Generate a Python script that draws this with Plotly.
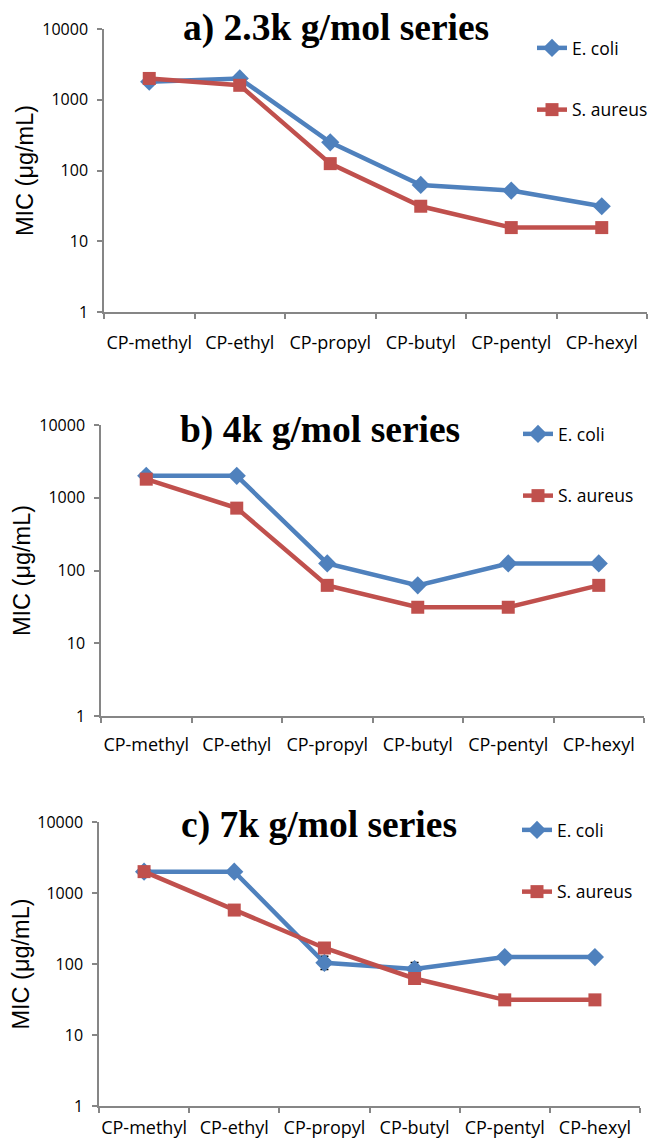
import plotly.graph_objects as go

categories = ["CP-methyl", "CP-ethyl", "CP-propyl", "CP-butyl", "CP-pentyl", "CP-hexyl"]
titles = ["a) 2.3k g/mol series", "b) 4k g/mol series", "c) 7k g/mol series"]

ecoli_a = [1800, 2000, 250, 62.5, 52, 31.25]
saureus_a = [2000, 1600, 125, 31.25, 15.6, 15.6]

ecoli_b = [2000, 2000, 125, 62.5, 125, 125]
saureus_b = [1800, 720, 62.5, 31.25, 31.25, 62.5]

ecoli_c = [2000, 2000, 104, 85, 125, 125]
saureus_c = [2000, 575, 168, 62.5, 31.25, 31.25]
ecoli_c_err_plus = [0, 0, 25, 20, 0, 0]
ecoli_c_err_minus = [0, 0, 20, 16, 0, 0]

ytick_vals = [1, 10, 100, 1000, 10000]
ytick_text = ["1", "10", "100", "1000", "10000"]

BLUE = "#4F81BD"
RED = "#C0504D"
AXIS = "#868686"
OFF = 8  # page body margin
W, H = 659 - OFF, 1144 - OFF

def fx(px):
    return (px - OFF) / W

def fy(py):
    return 1 - (py - OFF) / H

# pixel boxes in the window frame (left, right, top, bottom)
boxes = [(104, 647, 29, 312), (101, 644, 425, 716), (99, 640, 822, 1106)]
legend_text_start = [(580, 47), (566, 433), (565, 829)]
title_pos = [(336, 28), (320, 430), (319, 825)]
label_standoff = [14, 12, 5]

fig = go.Figure()
panels = [(ecoli_a, saureus_a), (ecoli_b, saureus_b), (ecoli_c, saureus_c)]

for i, (ec, sa) in enumerate(panels):
    sfx = "" if i == 0 else str(i + 1)
    leg = "legend" + sfx
    ec_kwargs = {}
    if i == 2:
        ec_kwargs["error_y"] = dict(type="data", array=ecoli_c_err_plus,
                                    arrayminus=ecoli_c_err_minus, symmetric=False,
                                    color="black", thickness=1.5, width=4)
    fig.add_trace(go.Scatter(
        x=categories, y=ec, name="E. coli", mode="lines+markers",
        line=dict(color=BLUE, width=4.5), marker=dict(symbol="diamond", size=14, color=BLUE),
        xaxis="x" + sfx, yaxis="y" + sfx, legend=leg, legendgroup="ec" + sfx, **ec_kwargs))
    fig.add_trace(go.Scatter(
        x=categories, y=sa, name="S. aureus", mode="lines+markers",
        line=dict(color=RED, width=4.5), marker=dict(symbol="square", size=13, color=RED),
        xaxis="x" + sfx, yaxis="y" + sfx, legend=leg, legendgroup="sa" + sfx))

layout = dict(width=W, height=H, margin=dict(l=0, r=0, t=0, b=0, autoexpand=False),
              template="none",
              plot_bgcolor="white", paper_bgcolor="white", showlegend=True,
              font=dict(family="Open Sans", color="black"))

annotations = []
for i, (l, r, t, b) in enumerate(boxes):
    sfx = "" if i == 0 else str(i + 1)
    layout["xaxis" + sfx] = dict(
        domain=[fx(l), fx(r)], anchor="y" + sfx, type="category", automargin=False,
        showline=True, linecolor=AXIS, linewidth=1.5, ticks="outside", tickson="boundaries",
        ticklen=5, tickcolor=AXIS, tickwidth=1.5, showgrid=False, zeroline=False,
        tickangle=0,
        tickfont=dict(family="Open Sans", size=18, color="black"),
        ticklabelstandoff=label_standoff[i],
        range=[-0.5, 5.5], fixedrange=True)
    layout["yaxis" + sfx] = dict(
        domain=[fy(b), fy(t)], anchor="x" + sfx, type="log", range=[0, 4],
        automargin=False,
        tickvals=ytick_vals, ticktext=ytick_text,
        showline=True, linecolor=AXIS, linewidth=1.5, ticks="outside", ticklen=5,
        tickcolor=AXIS, tickwidth=1.5, showgrid=False, zeroline=False,
        ticklabelstandoff=6,
        tickfont=dict(family="Open Sans", size=16, color="black"),
        title=dict(text="MIC (μg/mL)", font=dict(family="Liberation Sans", size=23.5, color="black"),
                   standoff=2))
    lx, ly = legend_text_start[i]
    layout["legend" + sfx] = dict(
        x=fx(lx - 48), y=fy(ly - 17), xanchor="left", yanchor="top",
        traceorder="grouped", tracegroupgap=36, bgcolor="rgba(0,0,0,0)",
        font=dict(family="Open Sans", size=17.5, color="black"), itemwidth=30)
    tx, ty = title_pos[i]
    annotations.append(dict(
        text="<b>" + titles[i] + "</b>", x=fx(tx), y=fy(ty), xref="paper", yref="paper",
        xanchor="center", yanchor="middle", showarrow=False,
        font=dict(family="Liberation Serif", size=37.5, color="black")))

layout["annotations"] = annotations
fig.update_layout(**layout)
fig.write_html("out.html")
